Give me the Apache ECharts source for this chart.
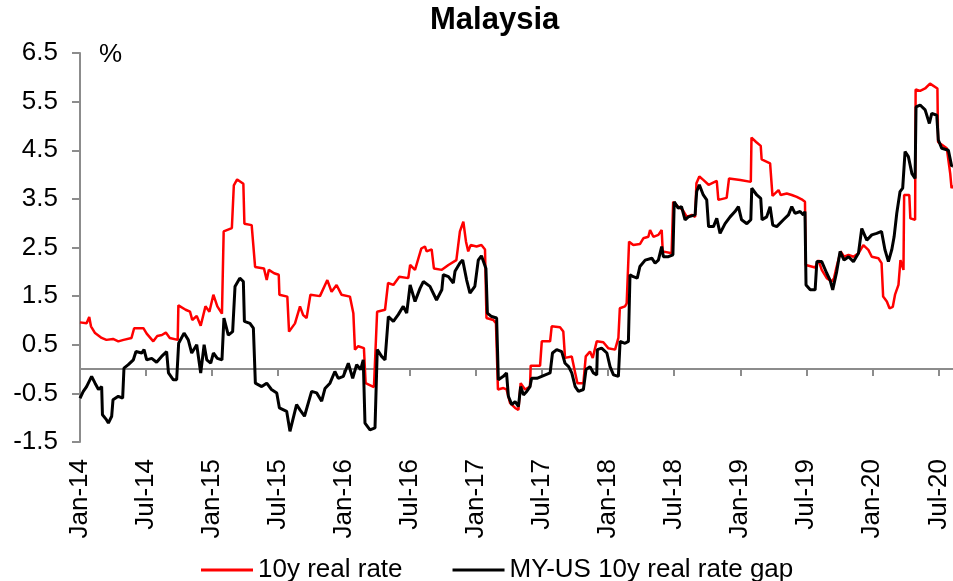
<!DOCTYPE html>
<html lang="en">
<head>
    <meta charset="UTF-8">
    <title>Malaysia</title>
    <script src="https://cdn.jsdelivr.net/npm/echarts@6/dist/echarts.min.js"></script>
    <style>
        html, body { margin: 0; padding: 0; background: #fff; }
        #chart { width: 953px; height: 581px; }
    </style>
</head>
<body>
    <div id="chart"></div>
    <script>
        // x = decimal year, y = %
        var realRate = [
            [2014.00,0.96],[2014.05,0.94],[2014.07,1.07],[2014.083,0.88],[2014.114,0.74],[2014.164,0.64],[2014.20,0.60],
            [2014.25,0.62],[2014.29,0.57],[2014.33,0.60],[2014.39,0.64],[2014.41,0.84],[2014.48,0.84],[2014.505,0.73],
            [2014.555,0.57],[2014.585,0.68],[2014.62,0.70],[2014.65,0.75],[2014.68,0.64],[2014.74,0.60],[2014.745,1.31],
            [2014.80,1.22],[2014.833,1.18],[2014.85,1.01],[2014.884,1.09],[2014.914,0.89],[2014.95,1.29],[2014.98,1.18],
            [2015.01,1.53],[2015.04,1.29],[2015.075,1.14],[2015.088,2.83],[2015.15,2.90],[2015.165,3.78],[2015.19,3.90],
            [2015.237,3.81],[2015.245,2.99],[2015.30,2.96],[2015.326,2.10],[2015.393,2.07],[2015.414,1.83],[2015.43,2.04],
            [2015.47,1.97],[2015.505,1.94],[2015.51,1.53],[2015.57,1.49],[2015.583,0.77],[2015.628,0.94],[2015.666,1.29],
            [2015.69,1.11],[2015.716,1.05],[2015.745,1.53],[2015.817,1.50],[2015.873,1.83],[2015.905,1.59],[2015.943,1.73],
            [2015.98,1.53],[2016.044,1.49],[2016.07,1.15],[2016.082,0.40],[2016.107,0.47],[2016.15,0.43],[2016.163,-0.29],
            [2016.226,-0.37],[2016.25,1.18],[2016.31,1.22],[2016.333,1.77],[2016.373,1.73],[2016.418,1.90],[2016.486,1.87],
            [2016.50,2.14],[2016.537,2.04],[2016.585,2.48],[2016.612,2.52],[2016.625,2.42],[2016.663,2.46],[2016.68,2.07],
            [2016.74,2.04],[2016.79,2.14],[2016.85,2.24],[2016.877,2.83],[2016.903,3.03],[2016.923,2.62],[2016.94,2.42],
            [2016.958,2.55],[2017.003,2.52],[2017.04,2.55],[2017.067,2.46],[2017.078,1.05],[2017.13,1.01],[2017.15,0.94],
            [2017.165,-0.42],[2017.206,-0.39],[2017.23,-0.42],[2017.257,-0.70],[2017.295,-0.80],[2017.32,-0.84],[2017.337,-0.29],
            [2017.37,-0.42],[2017.408,-0.36],[2017.413,0.07],[2017.484,0.07],[2017.497,0.57],[2017.56,0.57],[2017.572,0.88],
            [2017.635,0.86],[2017.66,0.77],[2017.673,0.23],[2017.724,0.26],[2017.75,-0.08],[2017.767,-0.29],[2017.812,-0.29],
            [2017.83,0.26],[2017.862,0.36],[2017.883,0.23],[2017.913,0.57],[2017.963,0.55],[2018.0,0.43],[2018.052,0.40],
            [2018.077,0.64],[2018.088,1.25],[2018.127,1.29],[2018.14,1.35],[2018.158,2.62],[2018.19,2.55],[2018.24,2.57],
            [2018.266,2.69],[2018.304,2.72],[2018.317,2.86],[2018.342,2.72],[2018.38,2.76],[2018.405,2.86],[2018.413,2.42],
            [2018.48,2.38],[2018.492,3.44],[2018.53,3.34],[2018.565,3.27],[2018.595,3.13],[2018.633,3.17],[2018.658,3.13],
            [2018.668,3.82],[2018.69,3.96],[2018.72,3.89],[2018.76,3.79],[2018.822,3.87],[2018.834,3.48],[2018.897,3.52],
            [2018.915,3.92],[2019.0,3.89],[2019.08,3.85],[2019.085,4.76],[2019.12,4.67],[2019.155,4.59],[2019.162,4.31],
            [2019.226,4.23],[2019.244,3.56],[2019.29,3.68],[2019.306,3.58],[2019.352,3.61],[2019.39,3.58],[2019.428,3.54],
            [2019.465,3.49],[2019.49,3.44],[2019.496,2.14],[2019.567,2.09],[2019.592,2.24],[2019.617,2.04],[2019.655,1.87],
            [2019.693,1.80],[2019.71,1.87],[2019.73,2.11],[2019.76,2.42],[2019.786,2.31],[2019.82,2.35],[2019.857,2.31],
            [2019.895,2.38],[2019.932,2.55],[2019.97,2.45],[2019.996,2.31],[2020.046,2.28],[2020.07,2.18],[2020.082,1.49],
            [2020.11,1.39],[2020.13,1.25],[2020.155,1.28],[2020.172,1.53],[2020.198,1.73],[2020.213,2.24],[2020.236,2.04],
            [2020.241,3.58],[2020.28,3.58],[2020.288,3.10],[2020.324,3.07],[2020.328,5.75],[2020.362,5.72],[2020.4,5.77],
            [2020.437,5.87],[2020.493,5.77],[2020.498,4.67],[2020.564,4.54],[2020.59,4.02],[2020.6,3.72],[2020.611,3.78]
        ]
        var rateGap = [
            [2014.00,-0.60],[2014.025,-0.46],[2014.05,-0.36],[2014.088,-0.15],[2014.114,-0.29],[2014.14,-0.42],[2014.164,-0.36],
            [2014.17,-0.94],[2014.20,-1.04],[2014.215,-1.11],[2014.24,-0.97],[2014.25,-0.63],[2014.29,-0.56],[2014.323,-0.60],
            [2014.333,0.02],[2014.366,0.09],[2014.404,0.19],[2014.424,0.36],[2014.467,0.33],[2014.485,0.40],[2014.505,0.19],
            [2014.543,0.22],[2014.58,0.14],[2014.618,0.26],[2014.656,0.36],[2014.67,-0.08],[2014.707,-0.22],[2014.732,-0.22],
            [2014.747,0.53],[2014.788,0.74],[2014.82,0.60],[2014.846,0.33],[2014.884,0.50],[2014.914,-0.08],[2014.94,0.50],
            [2014.96,0.19],[2014.99,0.12],[2015.01,0.33],[2015.04,0.22],[2015.075,0.19],[2015.09,1.05],[2015.123,0.70],
            [2015.156,0.77],[2015.174,1.70],[2015.21,1.87],[2015.237,1.80],[2015.245,0.98],[2015.287,0.94],[2015.313,0.84],
            [2015.328,-0.29],[2015.376,-0.36],[2015.414,-0.29],[2015.45,-0.42],[2015.49,-0.49],[2015.51,-0.80],[2015.565,-0.87],
            [2015.59,-1.28],[2015.64,-0.73],[2015.666,-0.84],[2015.70,-0.97],[2015.754,-0.46],[2015.792,-0.49],[2015.83,-0.66],
            [2015.855,-0.40],[2015.893,-0.29],[2015.93,-0.05],[2015.956,-0.19],[2015.994,-0.15],[2016.032,0.12],[2016.065,-0.19],
            [2016.095,0.09],[2016.125,-0.01],[2016.145,0.19],[2016.158,-1.11],[2016.196,-1.25],[2016.234,-1.21],[2016.251,0.40],
            [2016.284,0.26],[2016.31,0.19],[2016.335,1.08],[2016.373,0.98],[2016.41,1.12],[2016.448,1.29],[2016.474,1.15],
            [2016.50,1.73],[2016.537,1.39],[2016.575,1.66],[2016.60,1.80],[2016.65,1.70],[2016.70,1.42],[2016.74,1.63],
            [2016.751,1.94],[2016.79,1.90],[2016.827,1.77],[2016.84,2.01],[2016.877,2.18],[2016.898,2.24],[2016.928,1.83],
            [2016.953,1.56],[2016.99,1.70],[2017.016,2.24],[2017.04,2.33],[2017.074,2.07],[2017.085,1.15],[2017.117,1.08],
            [2017.155,1.05],[2017.168,-0.22],[2017.206,-0.15],[2017.23,-0.08],[2017.244,-0.56],[2017.27,-0.73],[2017.295,-0.67],
            [2017.32,-0.77],[2017.337,-0.36],[2017.358,-0.53],[2017.383,-0.46],[2017.408,-0.36],[2017.42,-0.19],[2017.46,-0.19],
            [2017.56,-0.08],[2017.578,0.33],[2017.61,0.40],[2017.648,0.36],[2017.673,0.12],[2017.70,0.05],[2017.724,-0.08],
            [2017.75,-0.36],[2017.775,-0.46],[2017.812,-0.42],[2017.832,-0.01],[2017.862,0.05],[2017.888,-0.08],[2017.913,-0.12],
            [2017.918,0.40],[2017.95,0.43],[2017.99,0.33],[2018.014,0.05],[2018.04,-0.12],[2018.077,-0.15],[2018.09,0.57],
            [2018.127,0.53],[2018.153,0.57],[2018.165,1.94],[2018.19,1.90],[2018.22,1.87],[2018.24,2.11],[2018.28,2.24],
            [2018.33,2.28],[2018.355,2.18],[2018.38,2.24],[2018.405,2.52],[2018.418,2.31],[2018.456,2.31],[2018.49,2.35],
            [2018.5,3.44],[2018.53,3.31],[2018.555,3.34],[2018.582,3.07],[2018.607,3.13],[2018.658,3.17],[2018.67,3.65],
            [2018.69,3.79],[2018.72,3.58],[2018.746,3.48],[2018.76,2.93],[2018.797,2.93],[2018.822,3.10],[2018.847,2.79],
            [2018.885,2.99],[2018.923,3.13],[2018.96,3.24],[2018.986,3.34],[2019.01,3.07],[2019.05,2.99],[2019.08,3.07],
            [2019.087,3.72],[2019.125,3.58],[2019.155,3.51],[2019.165,3.07],[2019.2,3.13],[2019.226,3.34],[2019.246,2.96],
            [2019.276,2.93],[2019.327,3.07],[2019.365,3.17],[2019.39,3.34],[2019.415,3.20],[2019.453,3.24],[2019.478,3.17],
            [2019.49,3.24],[2019.498,1.73],[2019.53,1.63],[2019.567,1.63],[2019.58,2.21],[2019.617,2.21],[2019.655,1.97],
            [2019.68,1.83],[2019.70,1.63],[2019.73,2.00],[2019.756,2.42],[2019.786,2.24],[2019.82,2.31],[2019.857,2.21],
            [2019.895,2.38],[2019.92,2.89],[2019.958,2.65],[2019.996,2.76],[2020.033,2.79],[2020.07,2.83],[2020.096,2.45],
            [2020.122,2.21],[2020.147,2.45],[2020.165,2.72],[2020.185,3.20],[2020.21,3.65],[2020.23,3.72],[2020.248,4.47],
            [2020.273,4.37],[2020.3,4.02],[2020.324,3.92],[2020.331,5.39],[2020.362,5.43],[2020.4,5.33],[2020.432,5.05],
            [2020.45,5.26],[2020.488,5.22],[2020.5,4.71],[2020.526,4.54],[2020.576,4.50],[2020.601,4.17],[2020.611,4.19]
        ]
        var tickYears = [2014, 2014.5, 2015, 2015.5, 2016, 2016.5, 2017, 2017.5, 2018, 2018.5, 2019, 2019.5, 2020, 2020.5]
        var tickLabels = ['Jan-14', 'Jul-14', 'Jan-15', 'Jul-15', 'Jan-16', 'Jul-16', 'Jan-17', 'Jul-17',
            'Jan-18', 'Jul-18', 'Jan-19', 'Jul-19', 'Jan-20', 'Jul-20']
        var yTicks = [-1.5, -0.5, 0.5, 1.5, 2.5, 3.5, 4.5, 5.5, 6.5]

        var font = 'Liberation Sans, Arial, sans-serif'
        var chart = echarts.init(document.getElementById('chart'))
        var xMin = 2014, xMax = 2020.611

        var option = {
            animation: false,
            title: {
                text: 'Malaysia',
                left: 425,
                top: 0,
                textStyle: { fontFamily: font, fontSize: 31, fontWeight: 'bold', color: '#000' }
            },
            graphic: [{
                type: 'text',
                left: 99,
                top: 42,
                style: { text: '%', font: '26px ' + font, fill: '#000' }
            }],
            legend: {
                left: 196,
                top: 552,
                icon: 'rect',
                itemWidth: 52,
                itemHeight: 3,
                itemGap: 50,
                textStyle: { fontFamily: font, fontSize: 26, color: '#000' },
                data: ['10y real rate', 'MY-US 10y real rate gap']
            },
            grid: { left: 80, right: 0, top: 53, bottom: 139 },
            xAxis: [{
                // labels along the bottom
                type: 'value',
                min: xMin,
                max: xMax,
                position: 'bottom',
                axisLine: { show: false, onZero: false },
                axisTick: { show: false },
                splitLine: { show: false },
                axisLabel: {
                    rotate: 90,
                    margin: 17,
                    customValues: tickYears,
                    fontFamily: font,
                    fontSize: 26,
                    color: '#000',
                    formatter: function (v) {
                        var i = tickYears.indexOf(v)
                        return i >= 0 ? tickLabels[i] : ''
                    }
                }
            }, {
                // the line at zero with its ticks
                type: 'value',
                min: xMin,
                max: xMax,
                position: 'bottom',
                axisLine: { show: true, onZero: true, lineStyle: { color: '#8c8c8c', width: 2 } },
                axisTick: { show: true, length: 7, customValues: tickYears, lineStyle: { color: '#8c8c8c', width: 2 } },
                axisLabel: { show: false },
                splitLine: { show: false }
            }],
            yAxis: {
                type: 'value',
                min: -1.5,
                max: 6.5,
                axisLine: { show: true, lineStyle: { color: '#8c8c8c', width: 2 } },
                axisTick: { show: true, length: 8, customValues: yTicks, lineStyle: { color: '#8c8c8c', width: 2 } },
                splitLine: { show: false },
                axisLabel: {
                    customValues: yTicks,
                    margin: 22,
                    fontFamily: font,
                    fontSize: 26,
                    color: '#000',
                    formatter: function (v) { return v.toFixed(1) }
                }
            },
            series: [{
                name: '10y real rate',
                type: 'line',
                xAxisIndex: 0,
                data: realRate,
                showSymbol: false,
                color: '#ff0000',
                lineStyle: { width: 2.5, color: '#ff0000' }
            }, {
                name: 'MY-US 10y real rate gap',
                type: 'line',
                xAxisIndex: 0,
                data: rateGap,
                showSymbol: false,
                color: '#000000',
                lineStyle: { width: 3, color: '#000000' }
            }]
        }

        chart.setOption(option)
    </script>
</body>
</html>
